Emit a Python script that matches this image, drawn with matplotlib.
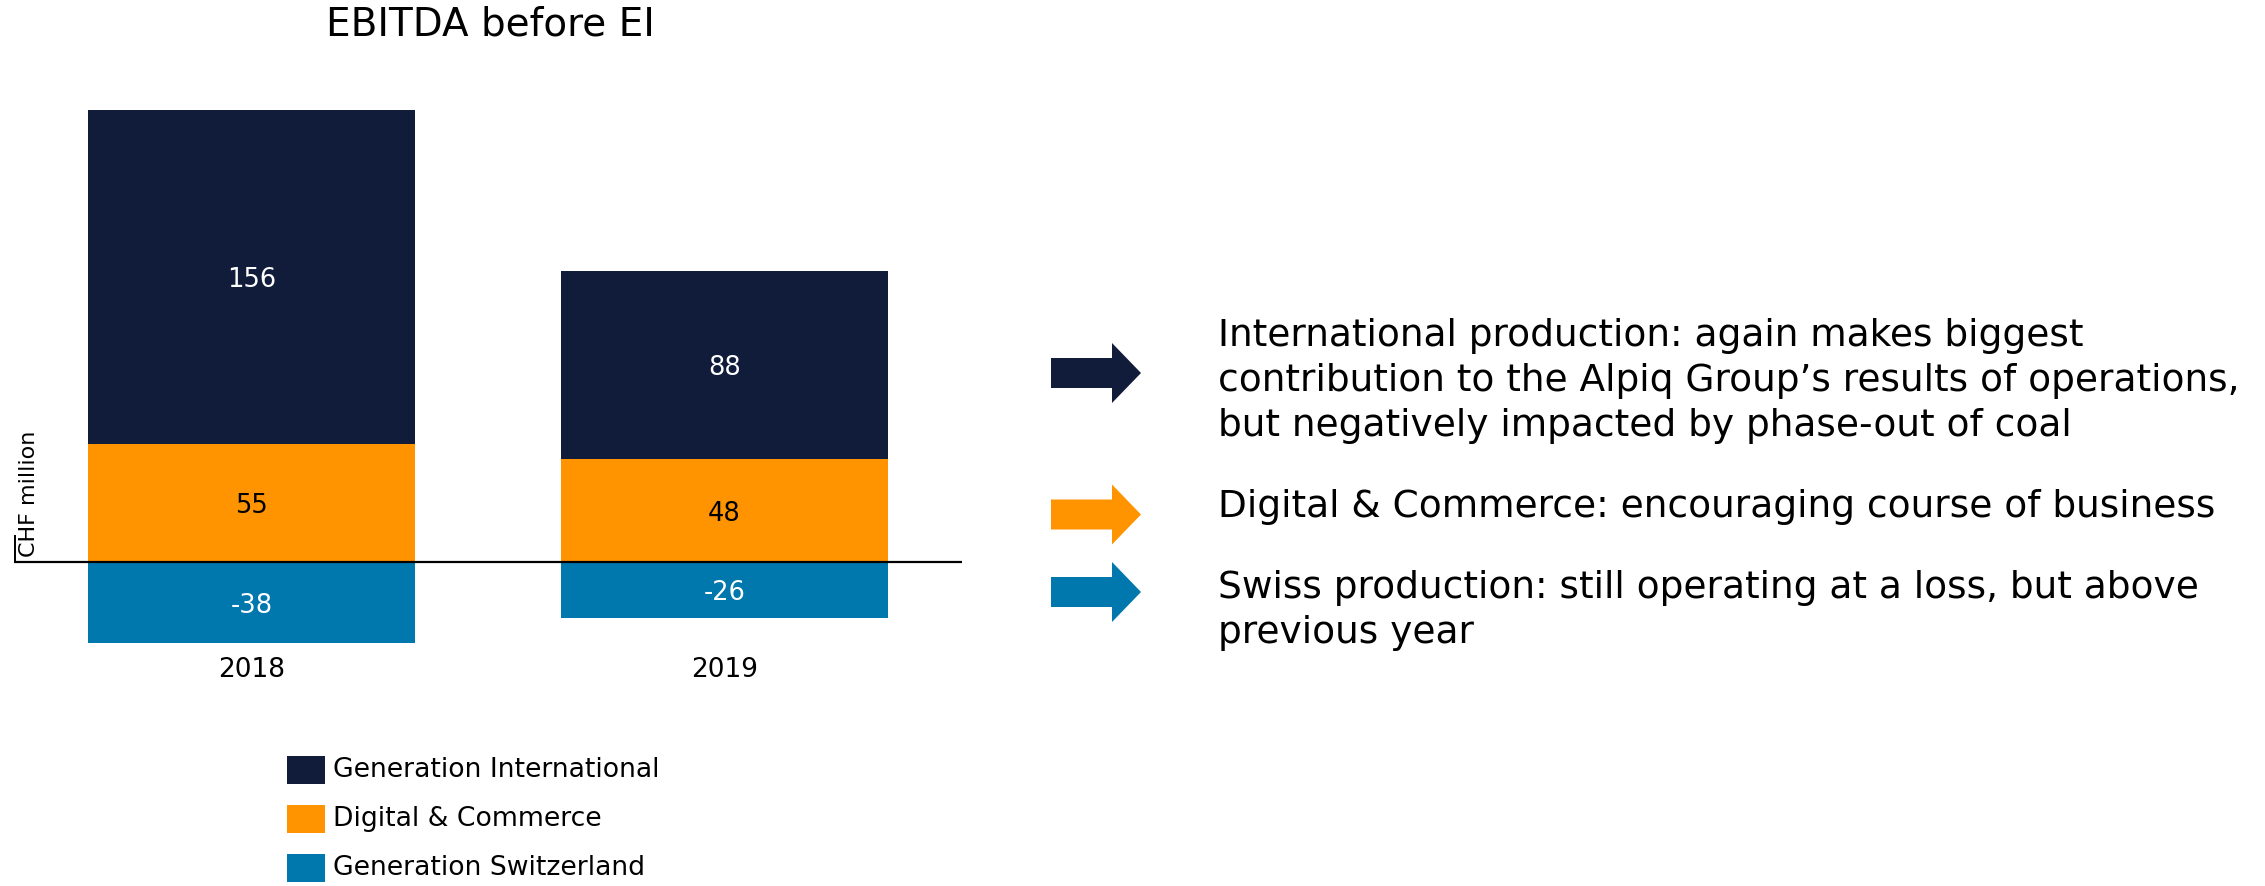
import matplotlib
matplotlib.use("Agg")
import matplotlib.pyplot as plt
from matplotlib.patches import FancyArrow, Rectangle

# EBITDA before exceptional items, CHF million
years = ["2018", "2019"]
segments = ["Generation International", "Digital & Commerce", "Generation Switzerland"]
gen_international = [156, 88]
digital_commerce = [55, 48]
gen_switzerland = [-38, -26]

colors = {
    "Generation International": "#111c3b",
    "Digital & Commerce": "#ff9300",
    "Generation Switzerland": "#0078ae",
}

comments = [
    "International production: again makes biggest\n"
    "contribution to the Alpiq Group\u2019s results of operations,\n"
    "but negatively impacted by phase-out of coal",
    "Digital & Commerce: encouraging course of business",
    "Swiss production: still operating at a loss, but above\n"
    "previous year",
]

plt.rcParams["font.family"] = ["DejaVu Sans"]

W, H = 2265, 886
fig = plt.figure(figsize=(W / 100, H / 100), dpi=100)


def fx(px):
    return px / W


def fy(py):
    return 1 - py / H


# bar chart axes
ax = fig.add_axes([fx(14), fy(650), fx(962) - fx(14), fy(100) - fy(650)])
x = list(range(len(years)))
bw = 0.691
ax.bar(x, digital_commerce, width=bw, color=colors["Digital & Commerce"])
ax.bar(x, gen_international, width=bw, bottom=digital_commerce,
       color=colors["Generation International"])
ax.bar(x, gen_switzerland, width=bw, color=colors["Generation Switzerland"])
ax.axhline(0, color="black", lw=1.6, zorder=5)

ax.set_xlim(-0.502, 1.502)
ax.set_ylim(-41.1, 215.7)
# short stub of the value axis above the zero line
ax.vlines(-0.5, 0, 12.6, color="black", lw=1.4)

for i in x:
    ax.text(i, gen_switzerland[i] / 2, f"{gen_switzerland[i]}", ha="center",
            va="center_baseline", color="white", fontsize=18.5)
    ax.text(i, digital_commerce[i] / 2, f"{digital_commerce[i]}", ha="center",
            va="center_baseline", color="black", fontsize=18.5)
    ax.text(i, digital_commerce[i] + gen_international[i] / 2,
            f"{gen_international[i]}", ha="center", va="center_baseline",
            color="white", fontsize=18.5)

ax.set_xticks(x)
ax.set_xticklabels(years, fontsize=19)
ax.tick_params(axis="x", length=0, pad=5)
ax.set_yticks([])
for s in ax.spines.values():
    s.set_visible(False)

fig.text(fx(490), fy(25), "EBITDA before EI", ha="center", va="center",
         fontsize=28)
fig.text(fx(29), fy(557), "CHF million", ha="center", va="bottom",
         rotation=90, fontsize=16)

# overlay in pixel coordinates for legend and commentary arrows
ov = fig.add_axes([0, 0, 1, 1])
ov.set_xlim(0, W)
ov.set_ylim(H, 0)
ov.axis("off")

legend_y = [770, 819, 868]
for yc, s in zip(legend_y, segments):
    ov.add_patch(Rectangle((287, yc - 14), 38, 28, color=colors[s], lw=0))
    ov.text(333, yc, s, ha="left", va="center", fontsize=19.2)

arrow_y = [373, 514.5, 592]
for yc, s in zip(arrow_y, segments):
    ov.add_patch(FancyArrow(1051, yc, 90, 0, width=30, head_width=60,
                            head_length=29, length_includes_head=True,
                            color=colors[s], lw=0))

text_y = [381, 507, 610.5]
for yc, t in zip(text_y, comments):
    ov.text(1218, yc, t, ha="left", va="center", fontsize=27,
            linespacing=1.33)

fig.savefig("out.png", dpi=100)
